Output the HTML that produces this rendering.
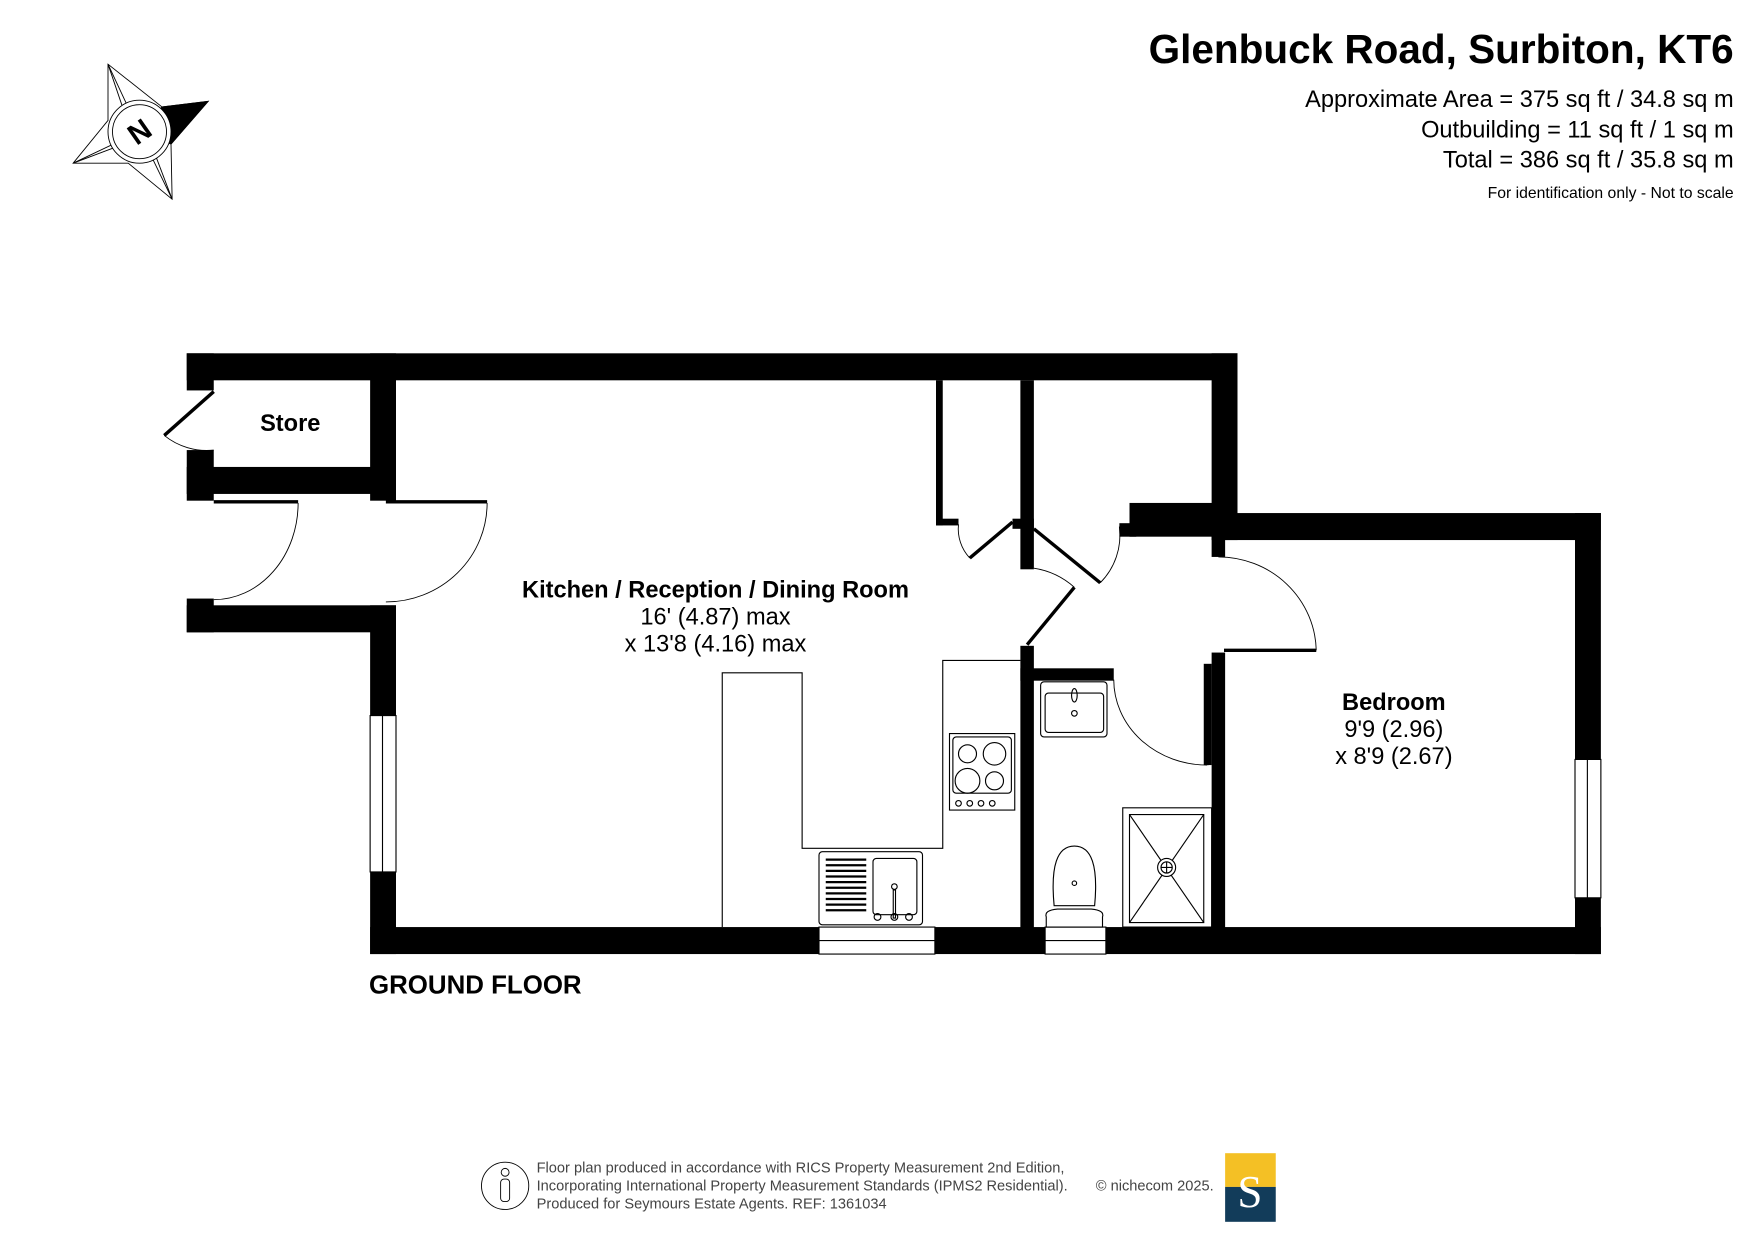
<!DOCTYPE html>
<html><head><meta charset="utf-8"><style>
html,body{margin:0;padding:0;background:#fff;}
svg{display:block;}
text{font-family:"Liberation Sans",Arial,sans-serif;}
</style></head><body>
<svg width="1755" height="1241" viewBox="0 0 1560 1103" xmlns="http://www.w3.org/2000/svg">
<rect width="1560" height="1103" fill="#fff"/>
<!-- header -->
<text x="1541" y="56" text-anchor="end" font-size="36" font-weight="bold">Glenbuck Road, Surbiton, KT6</text>
<text x="1541" y="95" text-anchor="end" font-size="21">Approximate Area = 375 sq ft / 34.8 sq m</text>
<text x="1541" y="122" text-anchor="end" font-size="21">Outbuilding = 11 sq ft / 1 sq m</text>
<text x="1541" y="149" text-anchor="end" font-size="21">Total = 386 sq ft / 35.8 sq m</text>
<text x="1541" y="176" text-anchor="end" font-size="14">For identification only - Not to scale</text>
<!-- compass -->
<g stroke="#000" stroke-width="0.8" fill="none">
<polygon points="96,57 144,95 185,90 152,128 153,177 114,145 65,145 96,107" fill="#fff"/>
<polygon points="144,95 185,90 152,128 124,117" fill="#000"/>
<line x1="96" y1="57" x2="124" y2="117"/>
<line x1="153" y1="177" x2="124" y2="117"/>
<line x1="65" y1="145" x2="124" y2="117"/>
<line x1="96" y1="57" x2="114" y2="110"/>
<line x1="65" y1="145" x2="110" y2="128"/>
<line x1="153" y1="177" x2="134" y2="127"/>
<circle cx="124" cy="117" r="28" fill="#fff"/>
<circle cx="124" cy="117" r="24"/>
</g>
<text x="124" y="126" text-anchor="middle" font-size="26" font-weight="bold" transform="rotate(-35 124 117)">N</text>
<!-- walls -->
<g fill="#000">
<rect x="166" y="314" width="934" height="24"/>
<rect x="166" y="314" width="24" height="33"/>
<rect x="166" y="400" width="24" height="45"/>
<rect x="166" y="415" width="186" height="24"/>
<rect x="329" y="314" width="23" height="131"/>
<rect x="166" y="532" width="24" height="30"/>
<rect x="166" y="538" width="186" height="24"/>
<rect x="329" y="538" width="23" height="98"/>
<rect x="329" y="775" width="23" height="73"/>
<rect x="329" y="824" width="399" height="24"/>
<rect x="831" y="824" width="98" height="24"/>
<rect x="983" y="824" width="440" height="24"/>
<rect x="1077" y="314" width="23" height="166"/>
<rect x="1004" y="447" width="96" height="30"/>
<rect x="995" y="465" width="15" height="12"/>
<rect x="1077" y="456" width="346" height="24"/>
<rect x="1400" y="456" width="23" height="219"/>
<rect x="1400" y="798" width="23" height="50"/>
<rect x="1077" y="470" width="12" height="25"/>
<rect x="1077" y="580" width="12" height="250"/>
<rect x="907" y="338" width="12" height="168"/>
<rect x="907" y="574" width="12" height="260"/>
<rect x="832" y="338" width="6" height="129"/>
<rect x="832" y="461" width="20" height="6"/>
<rect x="900" y="461" width="19" height="9"/>
<rect x="907" y="594" width="83" height="11"/>
<rect x="1070" y="590" width="7" height="90"/>
</g>
<!-- windows -->
<g stroke="#000" stroke-width="1" fill="#fff">
<rect x="329" y="636" width="23" height="139"/><line x1="340" y1="636" x2="340" y2="775"/>
<rect x="1400" y="675" width="23" height="123"/><line x1="1411" y1="675" x2="1411" y2="798"/>
<rect x="728" y="824" width="103" height="24"/><line x1="728" y1="836" x2="831" y2="836"/>
<rect x="929" y="824" width="54" height="24"/><line x1="929" y1="836" x2="983" y2="836"/>
</g>
<!-- doors -->
<g stroke="#000" fill="none" stroke-width="0.8">
<path d="M265,447 A75,86 0 0 1 190,533"/>
<path d="M433,447 A90,88 0 0 1 343,535"/>
<path d="M146,387 A60,60 0 0 0 190,400"/>
<path d="M852,466 A38,38 0 0 0 862,496"/>
<path d="M995,468 A60,60 0 0 1 978,518"/>
<path d="M919,505 A70,70 0 0 1 955,522"/>
<path d="M1083,495 A87,85 0 0 1 1170,578"/>
<path d="M990,604 A83,76 0 0 0 1073,680"/>
</g>
<g stroke="#000" stroke-width="3" fill="none">
<line x1="190" y1="446" x2="265" y2="446"/>
<line x1="343" y1="446" x2="433" y2="446"/>
<line x1="190" y1="348" x2="146" y2="387"/>
<line x1="900" y1="464" x2="862" y2="496"/>
<line x1="919" y1="470" x2="978" y2="518"/>
<line x1="913" y1="573" x2="955" y2="522"/>
<line x1="1088" y1="578" x2="1170" y2="578"/>
<line x1="1073" y1="597" x2="1073" y2="680"/>
</g>
<!-- kitchen -->
<g stroke="#000" fill="none" stroke-width="1">
<polyline points="642,824 642,598 713,598 713,754 838,754 838,587 907,587"/>
<rect x="844" y="652" width="58" height="68"/>
<rect x="847" y="655" width="52" height="50" rx="3"/>
<circle cx="860" cy="670" r="8"/><circle cx="884" cy="670" r="10"/>
<circle cx="860" cy="694" r="11"/><circle cx="884" cy="694" r="8"/>
<circle cx="852" cy="714" r="2.5"/><circle cx="862" cy="714" r="2.5"/><circle cx="872" cy="714" r="2.5"/><circle cx="882" cy="714" r="2.5"/>
<rect x="728" y="757" width="92" height="65" rx="3"/>
<rect x="776" y="763" width="39" height="50" rx="3"/>
<circle cx="795" cy="788" r="2.5"/><rect x="794" y="791" width="2" height="25"/>
<circle cx="780" cy="815" r="3"/><circle cx="795" cy="815" r="3"/><circle cx="808" cy="815" r="3"/>
</g>
<g stroke="#000" stroke-width="2">
<line x1="734" y1="764" x2="770" y2="764"/><line x1="734" y1="769" x2="770" y2="769"/><line x1="734" y1="774" x2="770" y2="774"/><line x1="734" y1="779" x2="770" y2="779"/><line x1="734" y1="784" x2="770" y2="784"/><line x1="734" y1="789" x2="770" y2="789"/><line x1="734" y1="794" x2="770" y2="794"/><line x1="734" y1="799" x2="770" y2="799"/><line x1="734" y1="804" x2="770" y2="804"/><line x1="734" y1="809" x2="770" y2="809"/>
</g>
<!-- bathroom -->
<g stroke="#000" fill="none" stroke-width="1">
<rect x="925" y="606" width="59" height="49" rx="3"/>
<rect x="929" y="616" width="52" height="35" rx="3"/>
<ellipse cx="955" cy="618" rx="2.5" ry="6"/><circle cx="955" cy="634" r="2.5"/>
<rect x="998" y="718" width="79" height="106"/>
<rect x="1004" y="724" width="66" height="96"/>
<line x1="1004" y1="724" x2="1070" y2="820"/><line x1="1070" y1="724" x2="1004" y2="820"/>
<circle cx="1037" cy="771" r="8" fill="#fff"/><circle cx="1037" cy="771" r="5"/>
<line x1="1032" y1="771" x2="1042" y2="771"/><line x1="1037" y1="766" x2="1037" y2="776"/>
<path d="M937,805 Q932,752 955,752 Q978,752 973,805 Z"/>
<path d="M930,815 Q928,809 940,808 L970,808 Q982,809 980,815 L980,824 L930,824 Z"/>
<circle cx="955" cy="785" r="2"/>
</g>
<!-- labels -->
<text x="258" y="383" text-anchor="middle" font-size="21" font-weight="bold">Store</text>
<text x="636" y="531" text-anchor="middle" font-size="21" font-weight="bold">Kitchen / Reception / Dining Room</text>
<text x="636" y="555" text-anchor="middle" font-size="21">16' (4.87) max</text>
<text x="636" y="579" text-anchor="middle" font-size="21">x 13'8 (4.16) max</text>
<text x="1239" y="631" text-anchor="middle" font-size="21" font-weight="bold">Bedroom</text>
<text x="1239" y="655" text-anchor="middle" font-size="21">9'9 (2.96)</text>
<text x="1239" y="679" text-anchor="middle" font-size="21">x 8'9 (2.67)</text>
<text x="328" y="883" font-size="23" font-weight="bold">GROUND FLOOR</text>
<!-- footer -->
<g stroke="#000" fill="none" stroke-width="0.8">
<circle cx="449" cy="1054" r="21"/>
<circle cx="449" cy="1042" r="3.5"/>
<rect x="445" y="1048" width="8" height="20" rx="3"/>
</g>
<text x="477" y="1042" font-size="13" fill="#444">Floor plan produced in accordance with RICS Property Measurement 2nd Edition,</text>
<text x="477" y="1058" font-size="13" fill="#444">Incorporating International Property Measurement Standards (IPMS2 Residential).</text>
<text x="974" y="1058" font-size="13" fill="#444">© nichecom 2025.</text>
<text x="477" y="1074" font-size="13" fill="#444">Produced for Seymours Estate Agents.   REF: 1361034</text>
<rect x="1089" y="1025" width="45" height="30" fill="#f4c025"/>
<rect x="1089" y="1055" width="45" height="31" fill="#123c5a"/>
<text x="1111" y="1073" text-anchor="middle" font-size="40" fill="#fff" style="font-family:'Liberation Serif',serif">S</text>
</svg>
</body></html>
